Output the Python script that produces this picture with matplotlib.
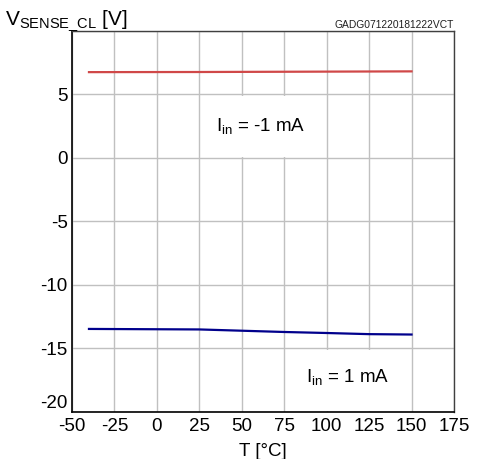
import matplotlib
matplotlib.use("Agg")
import matplotlib.pyplot as plt
from matplotlib.patches import Rectangle

plt.rcParams["font.family"] = ["Liberation Sans", "DejaVu Sans"]
plt.rcParams["mathtext.fontset"] = "custom"
plt.rcParams["mathtext.rm"] = "Liberation Sans"
plt.rcParams["mathtext.it"] = "Liberation Sans"

# data
temp = [-40, 25, 50, 75, 100, 125, 150]
v_neg1mA = [6.76, 6.77, 6.78, 6.79, 6.80, 6.81, 6.82]
v_pos1mA = [-13.46, -13.50, -13.60, -13.70, -13.78, -13.87, -13.90]

xticks = [-50, -25, 0, 25, 50, 75, 100, 125, 150, 175]
yticks = [-20, -15, -10, -5, 0, 5, 10]
ytick_labels = ["-20", "-15", "-10", "-5", "0", "5", ""]

fig = plt.figure(figsize=(4.79, 4.59), dpi=100)
ax = fig.add_axes([0.1503, 0.1024, 0.7975, 0.8301])

ax.set_xlim(-50, 175)
ax.set_ylim(-20, 10)
ax.set_xticks(xticks)
ax.set_xticklabels([str(t) for t in xticks])
ax.set_yticks(yticks)
ax.set_yticklabels(ytick_labels)
ax.tick_params(length=0, labelsize=13.5)
ax.tick_params(axis="y", pad=3)
ax.tick_params(axis="x", pad=4)
ax.get_yticklabels()[0].set_verticalalignment("bottom")
ax.grid(True, color="#c0c0c0", linewidth=1.0)
ax.set_axisbelow(True)

for side in ["left", "bottom"]:
    ax.spines[side].set_color("black")
    ax.spines[side].set_linewidth(1.2)
for side in ["right", "top"]:
    ax.spines[side].set_color("#404040")
    ax.spines[side].set_linewidth(1.0)

# white label boxes hiding the inner grid lines
ax.add_patch(Rectangle((26, 0.1), 73, 4.8, facecolor="white", edgecolor="none", zorder=1))
ax.add_patch(Rectangle((76, -19.9), 73, 4.8, facecolor="white", edgecolor="none", zorder=1))

ax.plot(temp, v_neg1mA, color="#d04848", linewidth=1.6, zorder=3)
ax.plot(temp, v_pos1mA, color="#00008c", linewidth=1.6, zorder=3)

ax.text(61, 2.15, r"I$_{\mathregular{in}}$ = -1 mA", fontsize=13.5,
        ha="center", va="baseline", zorder=4)
ax.text(112.5, -17.6, r"I$_{\mathregular{in}}$ = 1 mA", fontsize=13.5,
        ha="center", va="baseline", zorder=4)

ax.set_xlabel("T [°C]", fontsize=13.5, labelpad=6)

fig.text(5 / 479, 1 - 25 / 459, r"V$_{\mathregular{SENSE\_CL}}$ [V]",
         fontsize=15, ha="left", va="baseline")
fig.text(454 / 479, 1 - 28 / 459, "GADG071220181222VCT", fontsize=7.4,
         ha="right", va="baseline", color="#202020")

fig.savefig("out.png", dpi=100)
